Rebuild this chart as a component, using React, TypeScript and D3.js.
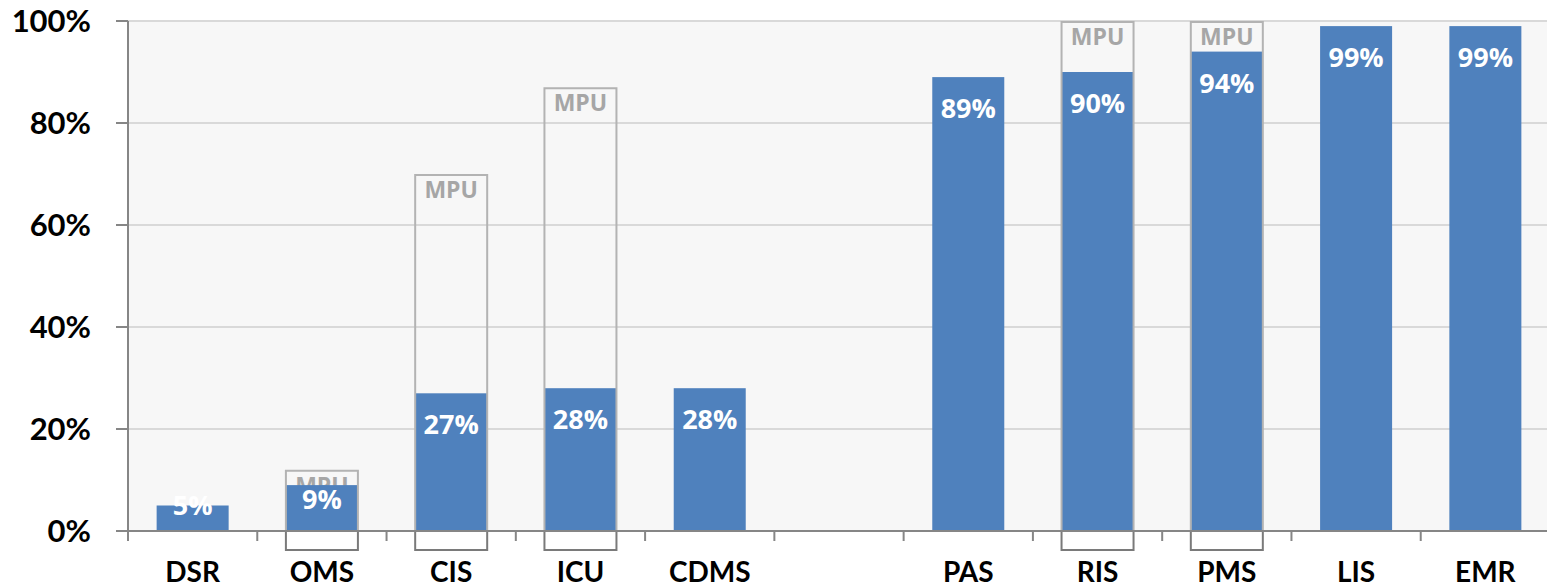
import React, { useRef, useEffect } from "react";
import * as d3 from "d3";

const categories = ["DSR", "OMS", "CIS", "ICU", "CDMS", "", "PAS", "RIS", "PMS", "LIS", "EMR"];
const values: (number | null)[] = [5, 9, 27, 28, 28, null, 89, 90, 94, 99, 99];
const mpuValues: (number | null)[] = [null, 12, 70, 87, null, null, null, 100, 100, null, null];
const yTicks = [0, 20, 40, 60, 80, 100];

const WIDTH = 1547;
const HEIGHT = 587;

function App() {
  const svgRef = useRef<SVGSVGElement>(null);

  useEffect(() => {
    const svg = d3.select(svgRef.current);
    svg.selectAll("*").remove();

    const left = 128;
    const right = 1550;
    const top = 21;
    const bottom = 531;

    const x = d3
      .scaleBand()
      .domain(categories.map((c, i) => String(i)))
      .range([left, right])
      .paddingInner(0.443)
      .paddingOuter(0.2215);
    const step = x.step();
    const y = d3.scaleLinear().domain([0, 100]).range([bottom, top]);

    // plot background
    svg
      .append("rect")
      .attr("x", left)
      .attr("y", top)
      .attr("width", right - left)
      .attr("height", bottom - top)
      .attr("fill", "#f7f7f7");

    // gridlines
    svg
      .selectAll(".grid")
      .data(yTicks.filter((t) => t > 0))
      .enter()
      .append("line")
      .attr("x1", left)
      .attr("x2", right)
      .attr("y1", (d) => y(d))
      .attr("y2", (d) => y(d))
      .attr("stroke", "#d9d9d9")
      .attr("stroke-width", 2);

    const rows = categories.map((c, i) => ({
      key: String(i),
      label: c,
      value: values[i],
      mpu: mpuValues[i],
    }));

    // MPU labels (behind the bars)
    rows
      .filter((d) => d.mpu != null)
      .forEach((d) => {
        svg
          .append("text")
          .attr("x", (x(d.key) as number) + x.bandwidth() / 2)
          .attr("y", y(d.mpu as number) + 24)
          .attr("text-anchor", "middle")
          .attr("fill", "#a6a6a6")
          .attr("font-family", "'Open Sans', sans-serif")
          .attr("font-weight", "bold")
          .style("font-size", "23px")
          .text("MPU");
      });

    // bars
    const barRows = rows.filter((d) => d.value != null);
    svg
      .selectAll(".bar")
      .data(barRows)
      .enter()
      .append("rect")
      .attr("x", (d) => x(d.key) as number)
      .attr("y", (d) => y(d.value as number))
      .attr("width", x.bandwidth())
      .attr("height", (d) => bottom - y(d.value as number))
      .attr("fill", "#4f81bd");

    // MPU boxes: light outline above the axis, darker part below it
    rows
      .filter((d) => d.mpu != null)
      .forEach((d) => {
        const x0 = x(d.key) as number;
        const x1 = x0 + x.bandwidth();
        const yt = y(d.mpu as number) + 1;
        svg
          .append("path")
          .attr("d", `M${x0},${bottom}V${yt}H${x1}V${bottom}`)
          .attr("fill", "none")
          .attr("stroke", "#b3b3b3")
          .attr("stroke-width", 2);
        svg
          .append("path")
          .attr("d", `M${x0},${bottom}V${bottom + 19}H${x1}V${bottom}`)
          .attr("fill", "none")
          .attr("stroke", "#7a7a7a")
          .attr("stroke-width", 2);
      });

    // bar value labels (inside end, pushed up on short bars)
    svg
      .selectAll(".bar-label")
      .data(barRows)
      .enter()
      .append("text")
      .attr("x", (d) => (x(d.key) as number) + x.bandwidth() / 2)
      .attr("y", (d) => {
        const t = y(d.value as number);
        const h = bottom - t;
        const off = Math.min(31, 0.73 * (h - 25) - 1);
        return t + off + 10;
      })
      .attr("text-anchor", "middle")
      .attr("fill", "#ffffff")
      .attr("font-family", "'Open Sans', sans-serif")
      .attr("font-weight", "bold")
      .style("font-size", "27px")
      .text((d) => `${d.value}%`);

    // y axis
    svg
      .append("line")
      .attr("x1", left)
      .attr("x2", left)
      .attr("y1", top)
      .attr("y2", bottom + 10)
      .attr("stroke", "#868686")
      .attr("stroke-width", 2);

    svg
      .selectAll(".ytick")
      .data(yTicks)
      .enter()
      .append("line")
      .attr("x1", left - 12)
      .attr("x2", left)
      .attr("y1", (d) => y(d))
      .attr("y2", (d) => y(d))
      .attr("stroke", "#868686")
      .attr("stroke-width", 2);

    svg
      .selectAll(".ylabel")
      .data(yTicks)
      .enter()
      .append("text")
      .attr("x", 91)
      .attr("y", (d) => y(d) + 11)
      .attr("text-anchor", "end")
      .attr("fill", "#000")
      .attr("font-family", "Lato, sans-serif")
      .attr("font-weight", "bold")
      .style("font-size", "31px")
      .text((d) => `${d}%`);

    // x axis
    svg
      .append("line")
      .attr("x1", left - 12)
      .attr("x2", right)
      .attr("y1", bottom)
      .attr("y2", bottom)
      .attr("stroke", "#868686")
      .attr("stroke-width", 2);

    svg
      .selectAll(".xtick")
      .data(d3.range(categories.length + 1))
      .enter()
      .append("line")
      .attr("x1", (i) => left + i * step)
      .attr("x2", (i) => left + i * step)
      .attr("y1", bottom)
      .attr("y2", bottom + 10)
      .attr("stroke", "#868686")
      .attr("stroke-width", 2);

    svg
      .selectAll(".xlabel")
      .data(rows)
      .enter()
      .append("text")
      .attr("x", (d) => (x(d.key) as number) + x.bandwidth() / 2)
      .attr("y", 582)
      .attr("text-anchor", "middle")
      .attr("fill", "#000")
      .attr("font-family", "Lato, sans-serif")
      .attr("font-weight", "bold")
      .style("font-size", "28px")
      .text((d) => d.label);
  }, []);

  return (
    <svg
      ref={svgRef}
      width={WIDTH}
      height={HEIGHT}
      style={{ position: "absolute", left: 0, top: 0, background: "#fff" }}
    ></svg>
  );
}

export default App;
